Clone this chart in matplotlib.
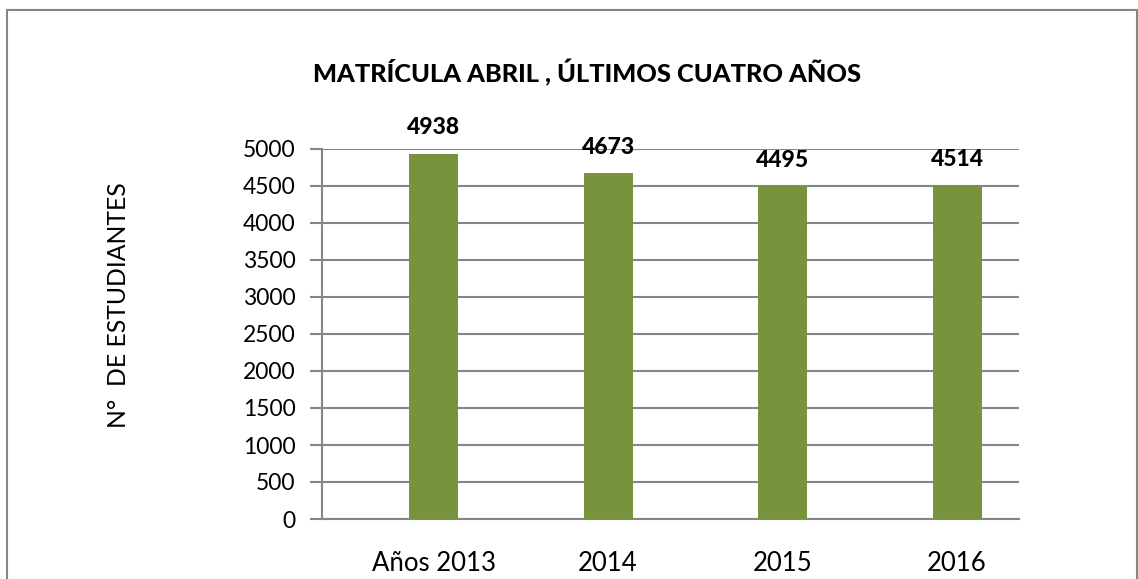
import matplotlib
matplotlib.use("Agg")
import matplotlib.pyplot as plt
from matplotlib.patches import Rectangle

categories = ["Años 2013", "2014", "2015", "2016"]
values = [4938, 4673, 4495, 4514]
yticks = [0, 500, 1000, 1500, 2000, 2500, 3000, 3500, 4000, 4500, 5000]
title = "MATRÍCULA ABRIL , ÚLTIMOS CUATRO AÑOS"
ylabel = "N°  DE ESTUDIANTES"

plt.rcParams['font.family'] = ['Lato', 'DejaVu Sans']

W, H = 1138, 579
fig = plt.figure(figsize=(W / 100, H / 100), dpi=100)
fig.patch.set_facecolor('white')

# outer chart border
fig.patches.append(Rectangle((7 / W, -0.1), (1137 - 7) / W, (H - 10) / H + 0.1,
                             transform=fig.transFigure, fill=False,
                             edgecolor='#868686', linewidth=1.5))

left, right, top, bottom = 322, 1019, 149, 519
ax = fig.add_axes([left / W, 1 - bottom / H, (right - left) / W, (bottom - top) / H])

x = list(range(len(categories)))
ax.bar(x, values, width=0.281, color='#77933C', zorder=3)
ax.set_xlim(-0.639, 3.355)
ax.set_ylim(0, 5000)
ax.set_yticks(yticks)
ax.set_yticklabels([str(v) for v in yticks], fontsize=16.5)
ax.set_xticks(x)
ax.set_xticklabels(categories, fontsize=18.5)
ax.tick_params(axis='x', length=0, pad=23)
ax.tick_params(axis='y', length=9, width=1.5, color='#868686', pad=10)
ax.grid(axis='y', color='#868686', linewidth=1.5, zorder=0)
for s in ['top', 'right']:
    ax.spines[s].set_visible(False)
ax.spines['left'].set_color('#868686')
ax.spines['left'].set_linewidth(1.5)
ax.spines['bottom'].set_color('#868686')
ax.spines['bottom'].set_linewidth(1.5)

for xi, v in zip(x, values):
    ax.annotate(str(v), (xi, v), xytext=(0, 11), textcoords='offset points',
                ha='center', va='bottom', fontsize=16.5, fontweight='black')

fig.text(587 / W, 1 - 73 / H, title, ha='center', va='center',
         fontsize=18.3, fontweight='black')
fig.text(118 / W, 1 - 305 / H, ylabel, ha='center', va='center',
         rotation=90, fontsize=17.8)

fig.savefig('out.png', dpi=100)
